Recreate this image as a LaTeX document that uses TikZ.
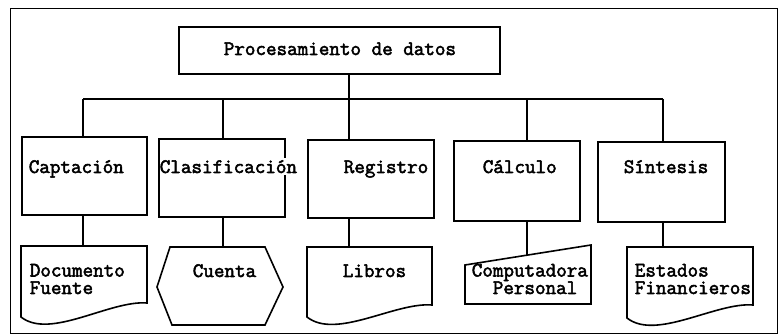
\documentclass[tikz,border=0pt]{standalone}
\usepackage{fontspec}
\newfontfamily\courf{Latin Modern Mono}[FakeBold=2.5]
\begin{document}
\begin{tikzpicture}[x=1pt,y=-1pt,line width=1.6pt,line join=miter,
  box/.style={draw,rectangle,inner sep=0pt,anchor=north west},
  ghost/.style={rectangle,inner sep=0pt,anchor=north west},
  lbl/.style={inner sep=0pt,anchor=base west,align=left,font=\courf\fontsize{20.5}{17.5}\selectfont},
  link/.style={line width=1.6pt}]
\useasboundingbox (0,0) rectangle (780,336);
% frame
\node[box,line width=1.2pt,minimum width=767pt,minimum height=325pt] (frame) at (10,8) {};
% top box
\node[box,minimum width=321pt,minimum height=47pt] (T) at (178,26) {};
\node[lbl] (tT) at (223,55) {Procesamiento de datos};
% row 1 boxes
\node[box,minimum width=125pt,minimum height=78pt] (A1) at (21,136) {};
\node[box,minimum width=126pt,minimum height=78pt] (A2) at (158,138) {};
\node[box,minimum width=126pt,minimum height=78pt] (A3) at (307,139) {};
\node[box,minimum width=126pt,minimum height=80pt] (A4) at (453,140) {};
\node[box,minimum width=127pt,minimum height=80pt] (A5) at (597,141) {};
\node[lbl] (t1) at (28,173) {Captación};
\node[lbl,fill=white,inner ysep=2pt] (t2) at (159,173) {Clasificación};
\node[lbl] (t3) at (343,173) {Registro};
\node[lbl] (t4) at (482,173) {Cálculo};
\node[lbl] (t5) at (623,173) {Síntesis};
% row 2 shapes
\node[ghost,minimum width=126pt,minimum height=71pt] (D1) at (21,246) {};
\draw[shift={(D1.north west)}] (0,71) -- (0,0) -- (126,0) -- (126,57)
  .. controls (89,54) and (29,94) .. (0,71) -- cycle;
\node[ghost,minimum width=126pt,minimum height=78pt] (H2) at (157,247) {};
\draw[shift={(H2.north west)}] (13,0) -- (108,0) -- (126,40) -- (108,78) -- (15,78) -- (0,40) -- cycle;
\node[ghost,minimum width=125pt,minimum height=70pt] (D3) at (307,247) {};
\draw[shift={(D3.north west)}] (0,70) -- (0,0) -- (125,0) -- (125,58)
  .. controls (88,55) and (29,93) .. (0,70) -- cycle;
\node[ghost,minimum width=126pt,minimum height=59pt] (M4) at (465,245) {};
\draw[shift={(M4.north west)}] (0,20) -- (126,0) -- (126,59) -- (0,59) -- cycle;
\node[ghost,minimum width=126pt,minimum height=71pt] (D5) at (627,247) {};
\draw[shift={(D5.north west)}] (0,71) -- (0,0) -- (126,0) -- (126,58)
  .. controls (89,55) and (29,94) .. (0,71) -- cycle;
\node[lbl] (u1) at (29,294) {Documento\\Fuente};
\node[lbl] (u2) at (192,277) {Cuenta};
\node[lbl] (u3) at (342,277) {Libros};
\node[lbl] (u4) at (471,294) {Computadora\\\hspace*{21pt}Personal};
\node[lbl] (u5) at (634,294) {Estados\\Financieros};
% connectors
\coordinate (j1) at (83,99);
\coordinate (j2) at (223,99);
\coordinate (j3) at (349,99);
\coordinate (j4) at (527,99);
\coordinate (j5) at (663,99);
\coordinate (m4top) at (527,255);
\draw[link] (T.south -| j3) -- (j3);
\draw[link] (j1) -- (j5);
\draw[link] (j1) -- (j1 |- A1.north);
\draw[link] (j2) -- (j2 |- A2.north);
\draw[link] (j3) -- (j3 |- A3.north);
\draw[link] (j4) -- (j4 |- A4.north);
\draw[link] (j5) -- (j5 |- A5.north);
\draw[link] (j1 |- A1.south) -- (j1 |- D1.north);
\draw[link] (j2 |- A2.south) -- (j2 |- H2.north);
\draw[link] (j3 |- A3.south) -- (j3 |- D3.north);
\draw[link] (j4 |- A4.south) -- (m4top);
\draw[link] (j5 |- A5.south) -- (j5 |- D5.north);
\end{tikzpicture}
\end{document}
